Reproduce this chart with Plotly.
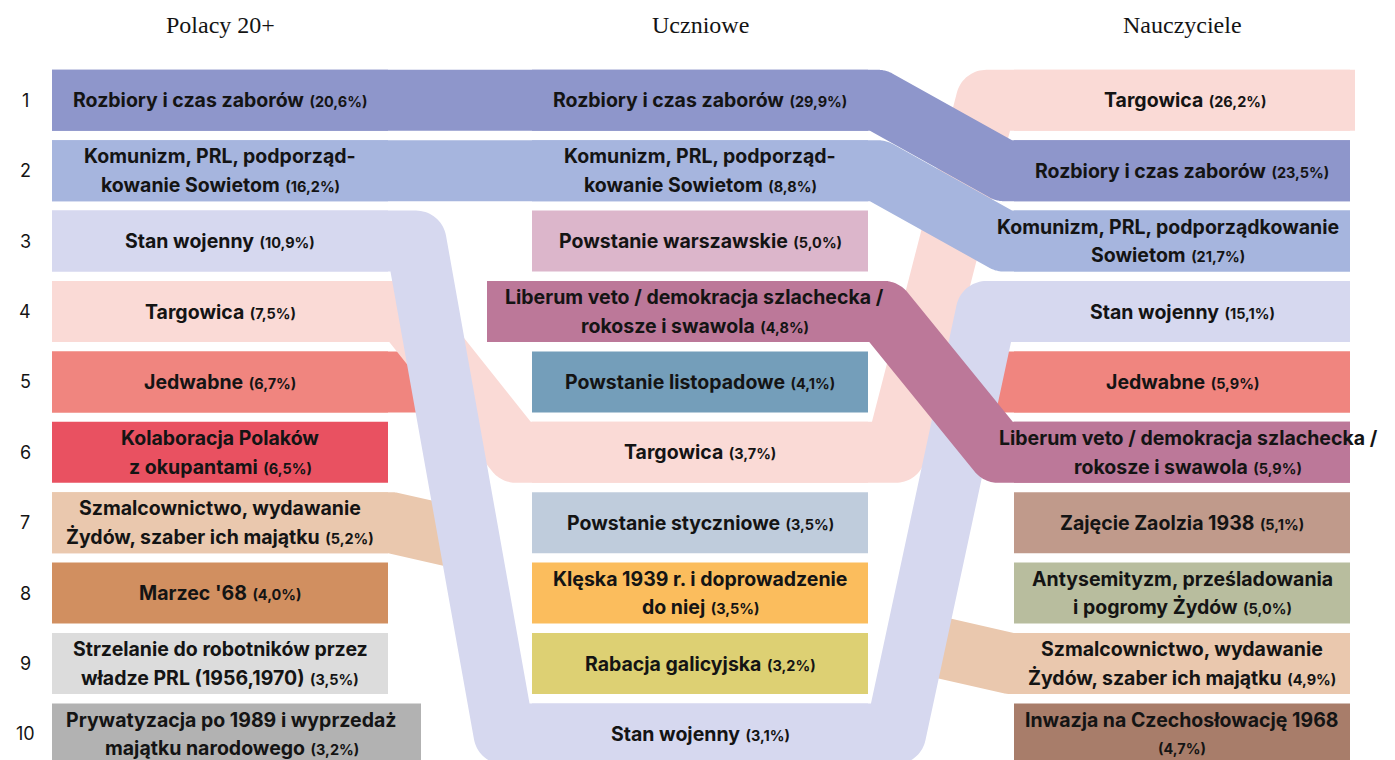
import math
import plotly.graph_objects as go

# ---------------- data ----------------
column_titles = ["Polacy 20+", "Uczniowe", "Nauczyciele"]
rank_labels = ["1", "2", "3", "4", "5", "6", "7", "8", "9", "10"]

left_topics = ["rozbiory", "komunizm", "stan", "targowica", "jedwabne",
               "kolaboracja", "szmalc", "marzec", "strzelanie", "prywatyzacja"]
left_pct = [20.6, 16.2, 10.9, 7.5, 6.7, 6.5, 5.2, 4.0, 3.5, 3.2]
left_labels = ["Rozbiory i czas zaborów",
               "Komunizm, PRL, podporząd-\nkowanie Sowietom",
               "Stan wojenny",
               "Targowica",
               "Jedwabne",
               "Kolaboracja Polaków\nz okupantami",
               "Szmalcownictwo, wydawanie\nŻydów, szaber ich majątku",
               "Marzec '68",
               "Strzelanie do robotników przez\nwładze PRL (1956,1970)",
               "Prywatyzacja po 1989 i wyprzedaż\nmajątku narodowego"]

mid_topics = ["rozbiory", "komunizm", "pw", "liberum", "pl",
              "targowica", "ps", "kleska", "rabacja", "stan"]
mid_pct = [29.9, 8.8, 5.0, 4.8, 4.1, 3.7, 3.5, 3.5, 3.2, 3.1]
mid_labels = ["Rozbiory i czas zaborów",
              "Komunizm, PRL, podporząd-\nkowanie Sowietom",
              "Powstanie warszawskie",
              "Liberum veto / demokracja szlachecka /\nrokosze i swawola",
              "Powstanie listopadowe",
              "Targowica",
              "Powstanie styczniowe",
              "Klęska 1939 r. i doprowadzenie\ndo niej",
              "Rabacja galicyjska",
              "Stan wojenny"]

right_topics = ["targowica", "rozbiory", "komunizm", "stan", "jedwabne",
                "liberum", "zaolzie", "antysemityzm", "szmalc", "inwazja"]
right_pct = [26.2, 23.5, 21.7, 15.1, 5.9, 5.9, 5.1, 5.0, 4.9, 4.7]
right_labels = ["Targowica",
                "Rozbiory i czas zaborów",
                "Komunizm, PRL, podporządkowanie\nSowietom",
                "Stan wojenny",
                "Jedwabne",
                "Liberum veto / demokracja szlachecka /\nrokosze i swawola",
                "Zajęcie Zaolzia 1938",
                "Antysemityzm, prześladowania\ni pogromy Żydów",
                "Szmalcownictwo, wydawanie\nŻydów, szaber ich majątku",
                "Inwazja na Czechosłowację 1968\n"]

topic_colors = {
    "rozbiory": "#8e96cb", "komunizm": "#a6b5de", "stan": "#d6d8ef",
    "targowica": "#fadad6", "jedwabne": "#f0857f", "kolaboracja": "#e95161",
    "szmalc": "#eac8ae", "marzec": "#d18f60", "strzelanie": "#dcdcdc",
    "prywatyzacja": "#b2b2b2", "pw": "#dcb6cb", "liberum": "#bc7899",
    "pl": "#749eba", "ps": "#bfccdc", "kleska": "#fbbd5d", "rabacja": "#ddd073",
    "zaolzie": "#c09a8b", "antysemityzm": "#b8bd9e", "inwazja": "#a87d6a",
}

columns = [
    (left_topics, left_pct, left_labels),
    (mid_topics, mid_pct, mid_labels),
    (right_topics, right_pct, right_labels),
]

# ---------------- layout / style ----------------
W, H = 1395, 760
PAGE_OFF = 8             # default page margin of the html body
COL_LEFT = [52, 532, 1014]
COL_W = 336
HALF = 30.5              # half bar height
Y0, DY = 100.3, 70.4     # rank 1 centre, rank spacing
BASE_GAP = 144
COVER = "stan"           # ribbon under which the hidden ribbons disappear
BAR_EXT = {(0, "prywatyzacja"): (52, 421), (1, "liberum"): (487, 888),
           (2, "targowica"): (1014, 1355)}
LABEL_DX = {(0, "prywatyzacja"): -5, (1, "liberum"): 7, (2, "komunizm"): -14,
            (2, "liberum"): 6}
DRAW_ORDER = ["jedwabne", "szmalc", "targowica", "stan", "liberum",
              "rozbiory", "komunizm"]
LABEL_FONT = "Inter"
LABEL_SIZE = 19.5
PCT_SIZE = 14.5
LINE_GAP = 28.5
TEXT_COLOR = "#141414"


def yc(rank):
    return Y0 + (rank - 1) * DY


def col_right(c):
    return COL_LEFT[c] + COL_W


def stroke_outline(pts, h, arc_n=18):
    """Outline of a thick polyline with butt caps and round joins."""
    n = len(pts)
    dirs, norms = [], []
    for i in range(n - 1):
        dx = pts[i + 1][0] - pts[i][0]
        dy = pts[i + 1][1] - pts[i][1]
        L = math.hypot(dx, dy)
        d = (dx / L, dy / L)
        dirs.append(d)
        norms.append((-d[1], d[0]))
    sides = {}
    for s in (1, -1):
        out = [(pts[0][0] + s * h * norms[0][0], pts[0][1] + s * h * norms[0][1])]
        for i in range(1, n - 1):
            P = pts[i]
            d1, d2 = dirs[i - 1], dirs[i]
            n1, n2 = norms[i - 1], norms[i]
            cr = d1[0] * d2[1] - d1[1] * d2[0]
            A = (P[0] + s * h * n1[0], P[1] + s * h * n1[1])
            B = (P[0] + s * h * n2[0], P[1] + s * h * n2[1])
            if abs(cr) < 1e-9:
                out.append(A)
                continue
            if s * cr > 0:  # inner side
                bx, by = B[0] - A[0], B[1] - A[1]
                t = (bx * d2[1] - by * d2[0]) / cr
                out.append((A[0] + t * d1[0], A[1] + t * d1[1]))
            else:           # outer side: round join
                a0 = math.atan2(A[1] - P[1], A[0] - P[0])
                a1 = math.atan2(B[1] - P[1], B[0] - P[0])
                da = a1 - a0
                while da > math.pi:
                    da -= 2 * math.pi
                while da < -math.pi:
                    da += 2 * math.pi
                for k in range(arc_n + 1):
                    a = a0 + da * k / arc_n
                    out.append((P[0] + h * math.cos(a), P[1] + h * math.sin(a)))
        out.append((pts[-1][0] + s * h * norms[-1][0], pts[-1][1] + s * h * norms[-1][1]))
        sides[s] = out
    return sides[1] + sides[-1][::-1]


def clip_x(poly, x0, keep_left):
    out = []
    n = len(poly)
    for i in range(n):
        P, Q = poly[i], poly[(i + 1) % n]
        inP = P[0] <= x0 if keep_left else P[0] >= x0
        inQ = Q[0] <= x0 if keep_left else Q[0] >= x0
        if inP:
            out.append(P)
        if inP != inQ:
            t = (x0 - P[0]) / (Q[0] - P[0])
            out.append((x0, P[1] + t * (Q[1] - P[1])))
    return out


def x_on(pts, y, x_lo, x_hi):
    """x of the centreline at height y, looked for between x_lo and x_hi."""
    for (xa, ya), (xb, yb) in zip(pts[:-1], pts[1:]):
        if ya != yb and min(xa, xb) >= x_lo - 1 and max(xa, xb) <= x_hi + 1:
            t = max(0.0, min(1.0, (y - ya) / (yb - ya)))
            return xa + t * (xb - xa)
    return None


def y_on(pts, x):
    for (xa, ya), (xb, yb) in zip(pts[:-1], pts[1:]):
        if xa <= x <= xb and xb > xa:
            return ya + (x - xa) / (xb - xa) * (yb - ya)
    return pts[-1][1]


shapes = []


def add_poly(points, color):
    if len(points) < 3:
        return
    path = "M " + " L ".join(f"{x:.2f},{y:.2f}" for x, y in points) + " Z"
    shapes.append(dict(type="path", path=path, xref="x", yref="y",
                       fillcolor=color, line=dict(width=0), layer="above"))


appear = {}
for c, (topics, _, _) in enumerate(columns):
    for r, t in enumerate(topics, start=1):
        appear.setdefault(t, []).append((c, r))


def ribbon_pts(t):
    app = appear[t]
    pts = []
    ins_prev = 0
    for idx, (c, r) in enumerate(app):
        y = yc(r)
        pts.append((COL_LEFT[c] - ins_prev if idx else COL_LEFT[c], y))
        if idx < len(app) - 1:
            cn, rn = app[idx + 1]
            delta = abs(rn - r)
            gap = COL_LEFT[cn] - col_right(c)
            ins = min(28, 6 * delta + 4) * BASE_GAP / gap if delta else 0
            pts.append((col_right(c) + ins, y))
            ins_prev = ins
        else:
            pts.append((col_right(c), y))
    return pts


cover_pts = ribbon_pts(COVER)


def draw_topic(t):
    color = topic_colors[t]
    app = appear[t]
    if len(app) > 1:
        pts = ribbon_pts(t)
        outline = stroke_outline(pts, HALF)
        if 1 in [c for c, _ in app]:
            add_poly(outline, color)
        else:
            # passes behind the middle column: keep only the parts that reach
            # the covering ribbon on each side
            xl = col_right(0)
            for _ in range(3):
                xl = x_on(cover_pts, y_on(pts, xl), col_right(0), COL_LEFT[1])
            xr = COL_LEFT[2]
            for _ in range(3):
                xr = x_on(cover_pts, y_on(pts, xr), col_right(1), COL_LEFT[2])
            add_poly(clip_x(outline, xl, True), color)
            add_poly(clip_x(outline, xr, False), color)
    for c, r in app:
        x0, x1 = BAR_EXT.get((c, t), (COL_LEFT[c], col_right(c)))
        y = yc(r)
        add_poly([(x0, y - HALF), (x1, y - HALF), (x1, y + HALF), (x0, y + HALF)], color)


done = set()
for t in DRAW_ORDER:
    draw_topic(t)
    done.add(t)
for t in topic_colors:
    if t not in done and t in appear:
        draw_topic(t)

# ---------------- texts ----------------
annotations = []
for c, title in enumerate(column_titles):
    annotations.append(dict(x=COL_LEFT[c] + COL_W / 2, y=25, text=title, showarrow=False,
                            xanchor="center", yanchor="middle",
                            font=dict(family="Liberation Serif", size=24, color=TEXT_COLOR)))
for r, lab in enumerate(rank_labels, start=1):
    annotations.append(dict(x=25, y=yc(r), text=lab, showarrow=False,
                            xanchor="center", yanchor="middle",
                            font=dict(family=LABEL_FONT, size=18, color=TEXT_COLOR)))

for c, (topics, pcts, labels) in enumerate(columns):
    for r, (t, p, lab) in enumerate(zip(topics, pcts, labels), start=1):
        x0, x1 = BAR_EXT.get((c, t), (COL_LEFT[c], col_right(c)))
        cx = (x0 + x1) / 2 + LABEL_DX.get((c, t), 0)
        pct = (f"<span style='font-size:{PCT_SIZE}px'>("
               + f"{p:.1f}".replace(".", ",") + "%)</span>")
        lines = lab.split("\n")
        n = len(lines)
        for i, line in enumerate(lines):
            txt = "<b>" + line + "</b>" if line else ""
            if i == n - 1:
                txt = (txt + " " if txt else "") + "<b>" + pct + "</b>"
            annotations.append(dict(x=cx, y=yc(r) + (i - (n - 1) / 2) * LINE_GAP, text=txt,
                                    showarrow=False, xanchor="center", yanchor="middle",
                                    font=dict(family=LABEL_FONT, size=LABEL_SIZE,
                                              color=TEXT_COLOR)))

fig = go.Figure()
fig.update_layout(
    width=W - PAGE_OFF, height=H - PAGE_OFF, autosize=False,
    margin=dict(l=0, r=0, t=0, b=0),
    paper_bgcolor="white", plot_bgcolor="white",
    xaxis=dict(range=[PAGE_OFF, W], visible=False, fixedrange=True),
    yaxis=dict(range=[H, PAGE_OFF], visible=False, fixedrange=True),
    shapes=shapes,
    annotations=annotations,
    showlegend=False,
)
fig.write_html("out.html", config={"displayModeBar": False})
